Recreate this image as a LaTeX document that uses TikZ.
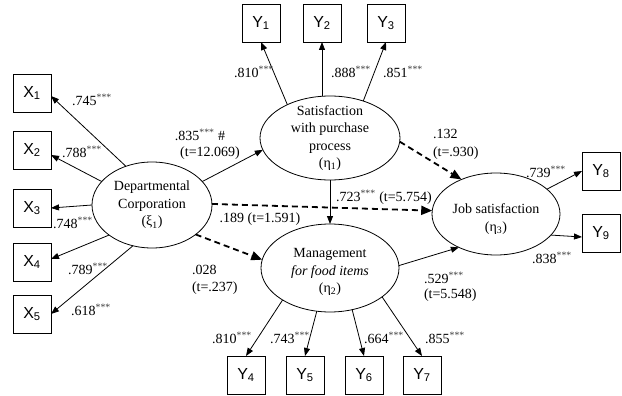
\documentclass[tikz,border=0pt]{standalone}
\usepackage{fontspec}
\setmainfont{Liberation Serif}
\newfontfamily\boxfont{Liberation Sans}
\usetikzlibrary{arrows.meta,shapes.geometric}
\newcommand{\stars}{\textsuperscript{\color{black!75}***}}
\begin{document}
\begin{tikzpicture}[x=1pt,y=-1pt,
  every node/.style={inner sep=0pt, outer sep=0pt},
  obs/.style={draw, line width=0.9pt, minimum width=38pt, minimum height=38pt, font=\boxfont\fontsize{16}{18}\selectfont},
  lat/.style={draw, ellipse, line width=0.8pt},
  txt/.style={align=center, font=\fontsize{14}{17.5}\selectfont},
  lab/.style={font=\fontsize{14}{17}\selectfont, align=left},
  arr/.style={-{Triangle[length=8pt,width=6pt]}, line width=0.8pt},
  darr/.style={-{Triangle[length=11pt,width=9pt]}, line width=1.8pt, dash pattern=on 6pt off 4pt},
]
\useasboundingbox (0,0) rectangle (622,396);
\fill[white] (0,0) rectangle (622,396);

% observed boxes
\node[obs] (x1) at (32,93)  {X\textsubscript{1}};
\node[obs] (x2) at (32,150) {X\textsubscript{2}};
\node[obs] (x3) at (32,208) {X\textsubscript{3}};
\node[obs] (x4) at (32,262) {X\textsubscript{4}};
\node[obs] (x5) at (32,314) {X\textsubscript{5}};
\node[obs] (y1) at (261,23) {Y\textsubscript{1}};
\node[obs] (y2) at (322,23) {Y\textsubscript{2}};
\node[obs] (y3) at (386,23) {Y\textsubscript{3}};
\node[obs] (y4) at (246,375) {Y\textsubscript{4}};
\node[obs] (y5) at (305,375) {Y\textsubscript{5}};
\node[obs] (y6) at (364,375) {Y\textsubscript{6}};
\node[obs] (y7) at (422,375) {Y\textsubscript{7}};
\node[obs] (y8) at (601,171) {Y\textsubscript{8}};
\node[obs] (y9) at (601,233) {Y\textsubscript{9}};

% latent ellipses
\node[lat, minimum width=120pt, minimum height=86pt] (dept) at (152,205) {};
\node[txt] (deptt) at (152,205) {Departmental\\Corporation\\(ξ\textsubscript{1})};
\node[lat, minimum width=140pt, minimum height=84pt] (sat) at (330,138) {};
\node[txt] (satt) at (330,138) {Satisfaction\\with purchase\\process\\(η\textsubscript{1})};
\node[lat, minimum width=138pt, minimum height=88pt] (mgmt) at (330,268) {};
\node[txt] (mgmtt) at (330,272) {Management\\\textit{for food items}\\(η\textsubscript{2})};
\node[lat, minimum width=128pt, minimum height=82pt] (job) at (496,214) {};
\node[txt] (jobt) at (496,219) {Job satisfaction\\(η\textsubscript{3})};

% measurement arrows
\draw[arr] (dept.124) -- ([yshift=-3pt]x1.east);
\draw[arr] (dept.155) -- ([yshift=-5pt]x2.east);
\draw[arr] (dept.west) -- (x3.east);
\draw[arr] (dept.215) -- ([yshift=3pt]x4.east);
\draw[arr] (dept.245) -- (x5.east);
\draw[arr] (sat.142) -- (y1.south);
\draw[arr] (sat.north -| y2.south) -- (y2.south);
\draw[arr] (sat.48) -- (y3.south);
\draw[arr] (mgmt.214) -- (y4.north);
\draw[arr] (mgmt.253) -- (y5.north);
\draw[arr] (mgmt.298) -- (y6.north);
\draw[arr] (mgmt.331) -- (y7.north);
\draw[arr] (job.26) -- (y8.west);
\draw[arr] (job.-21) -- ([yshift=-4pt]y9.west);

% structural paths
\draw[arr] (dept.25) -- (sat.190);
\draw[arr] (sat.south) -- (mgmt.north);
\draw[arr] (mgmt.2) -- (job.222);
\draw[darr] (dept.1) -- (job.177);
\draw[darr] (dept.-34) -- (mgmt.173);
\draw[darr] (sat.-3) -- (job.135);

% labels
\node[lab] (l1) at (92,100) {.745\stars};
\node[lab] (l2) at (82,152) {.788\stars};
\node[lab] (l3) at (73,223) {.748\stars};
\node[lab] (l4) at (88,269) {.789\stars};
\node[lab] (l5) at (91,310) {.618\stars};
\node[lab] (l6) at (200,135) {.835\stars\ \#};
\node[lab] (l7) at (210,153) {(t=12.069)};
\node[lab, anchor=west] (l8) at (433,134) {.132};
\node[lab, anchor=west] (l9) at (433,153) {(t=.930)};
\node[lab] (l10) at (384,197) {.723\stars\ (t=5.754)};
\node[lab] (l11) at (260,219) {.189 (t=1.591)};
\node[lab, anchor=west] (l12) at (192,270) {.028};
\node[lab, anchor=west] (l13) at (192,288) {(t=.237)};
\node[lab, anchor=west] (l14) at (424,278) {.529\stars};
\node[lab, anchor=west] (l15) at (424,295) {(t=5.548)};
\node[lab] (l16) at (546,172) {.739\stars};
\node[lab] (l17) at (552,258) {.838\stars};
\node[lab] (l18) at (254,72) {.810\stars};
\node[lab] (l19) at (351,72) {.888\stars};
\node[lab] (l20) at (403,72) {.851\stars};
\node[lab] (l21) at (232,338) {.810\stars};
\node[lab] (l22) at (290,338) {.743\stars};
\node[lab] (l23) at (384,338) {.664\stars};
\node[lab] (l24) at (445,338) {.855\stars};
\end{tikzpicture}
\end{document}
